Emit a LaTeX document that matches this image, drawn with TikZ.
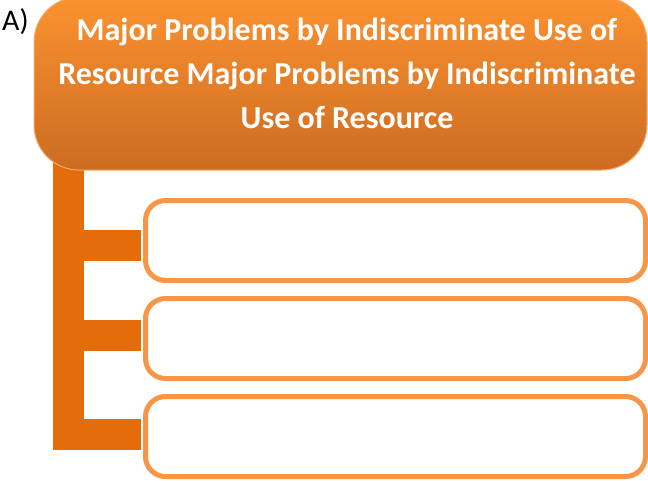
\documentclass[tikz,border=0pt]{standalone}
\usepackage{fontspec}
\setmainfont{Carlito}
\usetikzlibrary{positioning,calc}
\definecolor{accent}{RGB}{247,150,70}
\definecolor{barorange}{RGB}{228,108,10}
\definecolor{headtop}{RGB}{251,146,48}
\definecolor{headbot}{RGB}{204,108,34}
\definecolor{headline}{RGB}{250,170,100}
\tikzset{
  headbox/.style={rounded corners=45pt,top color=headtop,bottom color=headbot,
    draw=headline,line width=1pt,minimum width=613pt,minimum height=173pt,
    inner sep=0pt},
  itembox/.style={rounded corners=20pt,draw=accent,line width=5pt,fill=white,
    minimum width=500pt,minimum height=80pt,inner sep=0pt},
  bar/.style={barorange,line width=31pt,line join=miter,line cap=butt},
  titletext/.style={text=white,font=\fontsize{32}{44}\selectfont\bfseries,
    align=center}
}
\begin{document}
\begin{tikzpicture}[x=1pt,y=-1pt]
\useasboundingbox (0,0) rectangle (648,480);
% Item boxes
\node[itembox] (box1) at (395.5,240.5) {};
\node[itembox] (box2) at (395.5,338.5) {};
\node[itembox] (box3) at (395.5,436.5) {};
% Branch points on the spine
\coordinate (spine) at (68.5,160);
\coordinate (br1) at (141,245);
\coordinate (br2) at (141,335);
\coordinate (br3) at (141,434.5);
% Spine and branches
\draw[bar] (spine) |- (br3);
\draw[bar] (spine |- br1) -- (br1);
\draw[bar] (spine |- br2) -- (br2);
% Header
\node[headbox] (head) at (340.5,83.5) {};
\node[titletext] (title) at (347,73) {Major Problems by Indiscriminate Use of\\
  Resource Major Problems by Indiscriminate\\ Use of Resource};
\node[anchor=north west,inner sep=0pt,font=\fontsize{30}{34}\selectfont]
  (label) at (2,8) {A)};
\end{tikzpicture}
\end{document}
